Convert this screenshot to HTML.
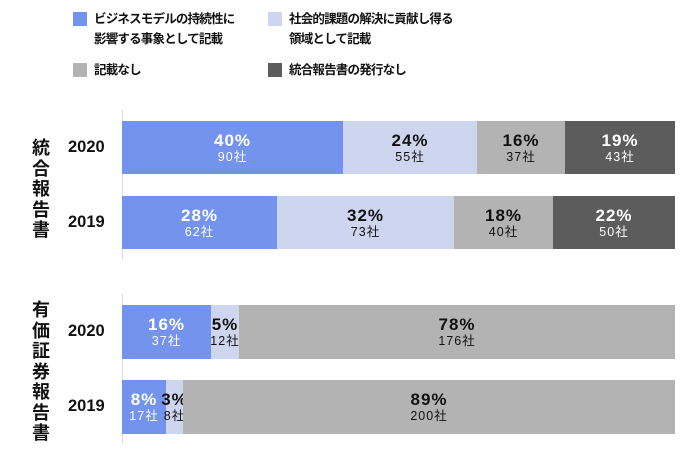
<!DOCTYPE html>
<html><head><meta charset="utf-8"><style>
body{margin:0;width:700px;height:450px;background:#fff;position:relative;overflow:hidden;font-family:"Liberation Sans","Noto Sans CJK JP",sans-serif;}
.a{position:absolute}
.sq{position:absolute;width:14px;height:14px}
.lg{position:absolute;font-size:12.5px;font-weight:bold;line-height:20px;color:#111;letter-spacing:-0.8px}
.seg{position:absolute;display:flex;flex-direction:column;align-items:center;justify-content:center;overflow:visible;white-space:nowrap}
.p{font-size:17px;font-weight:bold;line-height:19px;letter-spacing:1px}
.c{font-size:12.5px;line-height:15px;letter-spacing:1px}
.w{color:#fff}.k{color:#111}
.yr{position:absolute;font-size:16.5px;font-weight:bold;color:#111}
.vt{position:absolute;font-size:18px;font-weight:bold;line-height:20.5px;width:20px;text-align:center;color:#111}
</style></head><body>
<div class="sq" style="left:73px;top:12px;background:#7393ee"></div>
<div class="lg" style="left:94px;top:9px">ビジネスモデルの持続性に<br>影響する事象として記載</div>
<div class="sq" style="left:268px;top:12px;background:#cdd6ee"></div>
<div class="lg" style="left:289px;top:9px">社会的課題の解決に貢献し得る<br>領域として記載</div>
<div class="sq" style="left:73px;top:63px;background:#b3b3b3"></div>
<div class="lg" style="left:94px;top:60px">記載なし</div>
<div class="sq" style="left:268px;top:63px;background:#5c5c5c"></div>
<div class="lg" style="left:289px;top:60px">統合報告書の発行なし</div>

<div class="a" style="left:122px;top:110px;width:1px;height:150px;background:#ddd"></div>
<div class="a" style="left:122px;top:294px;width:1px;height:150px;background:#ddd"></div>

<div class="vt" style="left:31px;top:138px">統<br>合<br>報<br>告<br>書</div>
<div class="vt" style="left:31px;top:300px">有<br>価<br>証<br>券<br>報<br>告<br>書</div>

<div class="yr" style="left:68px;top:138px">2020</div>
<div class="yr" style="left:68px;top:213px">2019</div>
<div class="yr" style="left:68px;top:322px">2020</div>
<div class="yr" style="left:68px;top:397px">2019</div>

<div class="seg w" style="left:122px;top:121px;width:221px;height:53px;background:#7393ee"><span class="p">40%</span><span class="c">90社</span></div>
<div class="seg k" style="left:343px;top:121px;width:134px;height:53px;background:#cdd6ee"><span class="p">24%</span><span class="c">55社</span></div>
<div class="seg k" style="left:477px;top:121px;width:88px;height:53px;background:#b3b3b3"><span class="p">16%</span><span class="c">37社</span></div>
<div class="seg w" style="left:565px;top:121px;width:110px;height:53px;background:#5c5c5c"><span class="p">19%</span><span class="c">43社</span></div>

<div class="seg w" style="left:122px;top:196px;width:155px;height:53px;background:#7393ee"><span class="p">28%</span><span class="c">62社</span></div>
<div class="seg k" style="left:277px;top:196px;width:177px;height:53px;background:#cdd6ee"><span class="p">32%</span><span class="c">73社</span></div>
<div class="seg k" style="left:454px;top:196px;width:99px;height:53px;background:#b3b3b3"><span class="p">18%</span><span class="c">40社</span></div>
<div class="seg w" style="left:553px;top:196px;width:122px;height:53px;background:#5c5c5c"><span class="p">22%</span><span class="c">50社</span></div>

<div class="seg w" style="left:122px;top:305px;width:89px;height:54px;background:#7393ee"><span class="p">16%</span><span class="c">37社</span></div>
<div class="seg k" style="left:211px;top:305px;width:28px;height:54px;background:#cdd6ee"><span class="p">5%</span><span class="c">12社</span></div>
<div class="seg k" style="left:239px;top:305px;width:436px;height:54px;background:#b3b3b3"><span class="p">78%</span><span class="c">176社</span></div>

<div class="seg w" style="left:122px;top:380px;width:44px;height:54px;background:#7393ee"><span class="p">8%</span><span class="c">17社</span></div>
<div class="seg k" style="left:166px;top:380px;width:17px;height:54px;background:#cdd6ee"><span class="p">3%</span><span class="c">8社</span></div>
<div class="seg k" style="left:183px;top:380px;width:492px;height:54px;background:#b3b3b3"><span class="p">89%</span><span class="c">200社</span></div>
</body></html>
